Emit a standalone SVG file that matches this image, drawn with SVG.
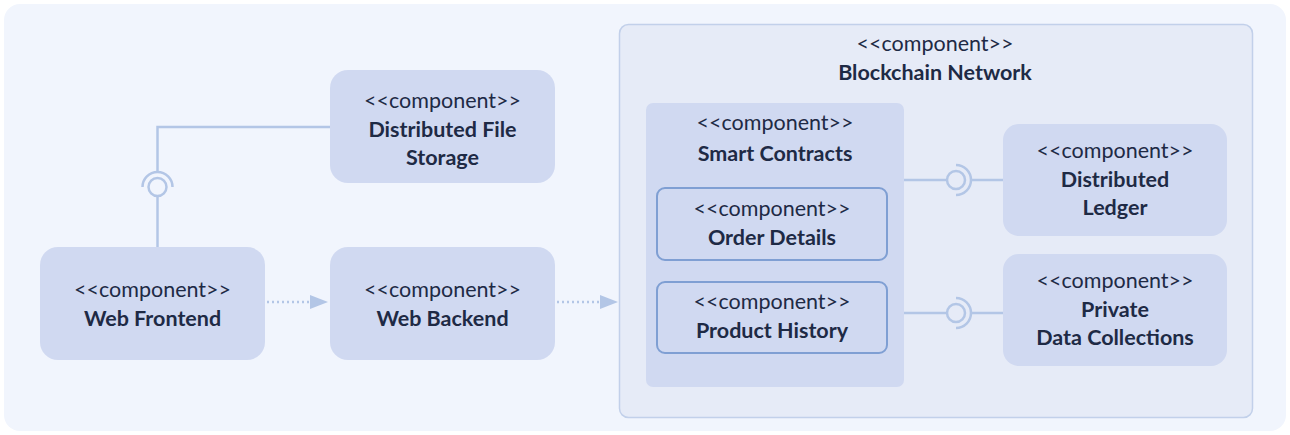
<svg xmlns="http://www.w3.org/2000/svg" width="1290" height="435" viewBox="0 0 1290 435">
<defs>
<style>
.bg{fill:#f1f5fd}
.node{fill:#d0d9f1}
.cont{fill:#e6ebf7;stroke:#c2d0ea;stroke-width:1.5}
.inner{fill:#d0d9f1;stroke:#7f9fd3;stroke-width:2}
.st{font-family:Lato,"Noto Sans",sans-serif;font-size:21.5px;fill:#1e2a45;text-anchor:middle}
.nm{font-family:Lato,"Noto Sans",sans-serif;font-size:21.5px;font-weight:bold;fill:#1e2a45;text-anchor:middle}
.ln{fill:none;stroke:#b3c6e6;stroke-width:2.5}
.dot{fill:none;stroke:#b3c6e6;stroke-width:2.5;stroke-dasharray:2 3}
.arc{fill:none;stroke:#b3c6e6;stroke-width:2.5}
</style>
</defs>
<rect class="bg" x="4" y="4" width="1282" height="427" rx="16"/>

<g id="blockchain-network">
<rect class="cont" x="619.5" y="24.5" width="633" height="393" rx="9"/>
<text class="st" x="935" y="51">&lt;&lt;component&gt;&gt;</text>
<text class="nm" x="935" y="80">Blockchain Network</text>
</g>

<g id="distributed-file-storage">
<rect class="node" x="330" y="70" width="225" height="113" rx="18"/>
<text class="st" x="442.5" y="108">&lt;&lt;component&gt;&gt;</text>
<text class="nm" x="442.5" y="137">Distributed File</text>
<text class="nm" x="442.5" y="165">Storage</text>
</g>

<g id="web-frontend">
<rect class="node" x="40" y="247" width="225" height="113" rx="18"/>
<text class="st" x="152.5" y="297">&lt;&lt;component&gt;&gt;</text>
<text class="nm" x="152.5" y="326">Web Frontend</text>
</g>

<g id="web-backend">
<rect class="node" x="330" y="247" width="225" height="113" rx="18"/>
<text class="st" x="442.5" y="297">&lt;&lt;component&gt;&gt;</text>
<text class="nm" x="442.5" y="326">Web Backend</text>
</g>

<g id="smart-contracts">
<rect class="node" x="646" y="103" width="258" height="284" rx="7"/>
<text class="st" x="775" y="130">&lt;&lt;component&gt;&gt;</text>
<text class="nm" x="775" y="161">Smart Contracts</text>
</g>

<g id="order-details">
<rect class="inner" x="657" y="188" width="230" height="72" rx="8"/>
<text class="st" x="772" y="216">&lt;&lt;component&gt;&gt;</text>
<text class="nm" x="772" y="245">Order Details</text>
</g>

<g id="product-history">
<rect class="inner" x="657" y="282" width="230" height="71" rx="8"/>
<text class="st" x="772" y="309">&lt;&lt;component&gt;&gt;</text>
<text class="nm" x="772" y="338">Product History</text>
</g>

<g id="distributed-ledger">
<rect class="node" x="1003" y="124" width="224" height="112" rx="16"/>
<text class="st" x="1115" y="158">&lt;&lt;component&gt;&gt;</text>
<text class="nm" x="1115" y="187">Distributed</text>
<text class="nm" x="1115" y="215">Ledger</text>
</g>

<g id="private-data-collections">
<rect class="node" x="1003" y="254" width="224" height="112" rx="16"/>
<text class="st" x="1115" y="288">&lt;&lt;component&gt;&gt;</text>
<text class="nm" x="1115" y="317">Private</text>
<text class="nm" x="1115" y="345">Data Collections</text>
</g>

<g id="connectors">
<path class="ln" d="M330,127 H157.5 V172"/>
<path class="arc" d="M142.5,187 A15,15 0 0 1 172.5,187"/>
<circle class="ln" cx="157.5" cy="187" r="9"/>
<path class="ln" d="M157.5,196 V247"/>

<path class="ln" d="M904,180 H947"/>
<circle class="ln" cx="956" cy="180" r="9"/>
<path class="arc" d="M956,165 A15,15 0 0 1 956,195"/>
<path class="ln" d="M971,180 H1003"/>

<path class="ln" d="M904,313 H947"/>
<circle class="ln" cx="956" cy="313" r="9"/>
<path class="arc" d="M956,298 A15,15 0 0 1 956,328"/>
<path class="ln" d="M971,313 H1003"/>

<path class="dot" d="M267,302 H312"/>
<path d="M310,295 L328,302 L310,309 z" fill="#b3c6e6"/>
<path class="dot" d="M557,302 H602"/>
<path d="M600,295 L618,302 L600,309 z" fill="#b3c6e6"/>
</g>
</svg>
